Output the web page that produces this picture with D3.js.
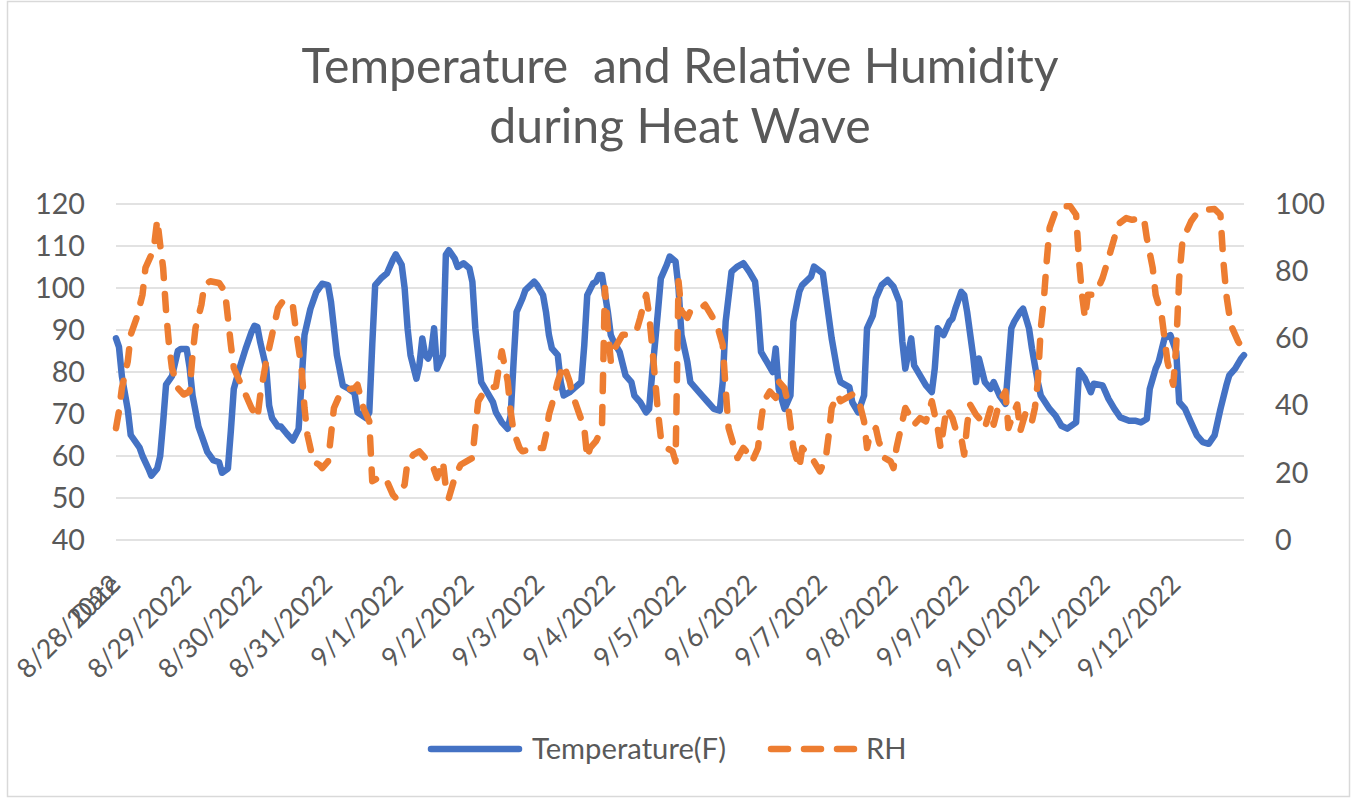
<!DOCTYPE html>
<html><head><meta charset="utf-8">
<script src="https://cdn.jsdelivr.net/npm/d3@7"></script>
<style>html,body{margin:0;padding:0;background:#fff;} svg{display:block;}</style>
</head><body><svg id="c" width="1354" height="799"></svg>
<script>
// ---------- data ----------
const titleLines = ["Temperature  and Relative Humidity", "during Heat Wave"];
const seriesNames = ["Temperature(F)", "RH"];
const firstCategory = "Date";
const dayLabels = ["8/28/2022","8/29/2022","8/30/2022","8/31/2022","9/1/2022","9/2/2022","9/3/2022","9/4/2022",
  "9/5/2022","9/6/2022","9/7/2022","9/8/2022","9/9/2022","9/10/2022","9/11/2022","9/12/2022"];
const leftTicks = [40,50,60,70,80,90,100,110,120];
const rightTicks = [0,20,40,60,80,100];
const lastHour = 383;
// [hour since 8/28 00:00, temperature F]
const temperature = [[0,88],[1,86],[2,79],[4,71],[5,65],[8,62],[9,60],[11,57],[12,55.3],[14,57],[15,60],[16,68],[17,77],[19,79],[21,85],[22,85.5],[24,85.5],[25,81],[26,74.4],[28,67],[30,63],[31,61],[33,59],[35,58.5],[36,56],[38,57],[39,66],[40,76],[42,81],[44,85.5],[46,89.5],[47,91],[48,90.7],[49,87],[51,81],[52,72],[53,69],[55,67],[56,67],[58,65.3],[60,63.7],[62,66.4],[63,77.6],[64,88.8],[66,95],[68,99],[70,101],[72,100.7],[73,96.7],[74,90.4],[75,84],[77,76.8],[79,76],[81,75],[82,70.4],[85,69],[86,70.4],[87,86.4],[88,100.7],[90,102.3],[92,103.5],[94,106.7],[95,108],[97,105.5],[98,100],[99,90.4],[100,84],[102,78.4],[103,81.6],[104,88],[105,84],[106,83.2],[107,84.8],[108,90.4],[109,80.8],[111,84],[112,107.9],[113,109],[115,107],[116,105],[118,105.9],[120,104.7],[121,101.5],[122,90.4],[124,77.6],[126,75.2],[128,72.8],[129,70.4],[131,68],[133,66.5],[134,69.6],[135,82.4],[136,94.3],[138,97.5],[139,99.5],[142,101.5],[143,100.7],[145,98.3],[146,94.3],[147,88.8],[148,85.6],[150,84],[151,77.6],[152,74.4],[154,75.2],[156,76.4],[158,77.6],[159,86.4],[160,98.3],[162,101.1],[163,101.5],[164,103.1],[165,103.1],[167,94.3],[168,88.8],[169,87.2],[171,84.8],[173,79.2],[175,77.6],[176,74.4],[178,72.8],[180,70.4],[181,71.2],[182,79.2],[184,94.3],[185,102.3],[187,105.5],[188,107.5],[190,106.3],[191,100],[192,88.8],[194,82.4],[195,77.6],[197,76],[199,74.4],[201,72.8],[203,71.2],[205,70.8],[206,77.6],[207,92],[209,103.9],[211,105.1],[213,105.9],[215,103.9],[217,101.5],[218,94.3],[219,84.8],[221,82.4],[223,80],[224,85.6],[225,76],[227,71.2],[229,74.4],[230,92],[232,99.1],[233,100.7],[236,102.7],[237,105.1],[240,103.5],[241,98.3],[243,88],[245,80],[246,77.6],[249,76.4],[250,72.8],[252,70.4],[254,74.4],[255,90.4],[257,93.5],[258,97.5],[260,100.7],[262,101.9],[264,100.3],[266,96.7],[267,87.2],[268,80.8],[270,88],[271,81.6],[273,79.2],[275,76.8],[277,75.2],[278,80.8],[279,90.4],[281,88.8],[283,92],[284,92.7],[285,95.1],[287,99.1],[288,98.3],[289,94.3],[291,84],[292,77.6],[293,83.2],[295,77.6],[297,76],[298,77.6],[300,74.4],[302,72.4],[304,90.4],[305,92],[307,94.3],[308,95.1],[310,90.4],[311,85.6],[313,77.6],[314,74.4],[317,71.2],[319,69.6],[321,67.2],[323,66.5],[326,68],[327,80.4],[329,78.4],[331,75.2],[332,77.2],[335,76.8],[337,73.6],[339,71.2],[341,69.2],[344,68.4],[346,68.4],[348,68],[350,68.8],[351,76],[353,80.8],[354,82.4],[356,88],[358,88.8],[360,84.8],[361,72.8],[363,71.2],[365,68],[367,64.9],[369,63.3],[371,62.9],[373,64.9],[375,71.2],[377,76.8],[378,79.2],[380,80.8],[382,83.2],[383,84]];
// [hour since 8/28 00:00, relative humidity %]
const humidity = [[0,33.3],[1,38.3],[2,45.2],[4,53.2],[5,61.1],[7,66.1],[9,73],[10,81],[12,84.9],[13,87.9],[14,95.3],[15,87.9],[16,81],[17,68.1],[18,58.1],[19,51.2],[21,45.2],[23,43.3],[25,44.2],[26,55.2],[27,63.1],[29,70],[30,76],[32,77],[35,76.5],[37,74],[38,66.1],[39,58.1],[40,51.2],[42,47.2],[44,43.3],[46,39.3],[48,36.3],[49,43.3],[51,53.2],[53,61.1],[55,69],[57,71.5],[60,70],[61,63.1],[63,51.2],[64,39.3],[65,31.3],[67,23.4],[69,22.4],[70,21.4],[72,23.4],[73,31.3],[74,39.3],[76,43.3],[78,44.7],[81,45.2],[82,46.2],[84,39.3],[86,35.3],[87,17.5],[89,18.5],[90,19],[92,17.5],[94,13.5],[95,12.5],[96,13.5],[98,16.5],[99,23.4],[101,25.4],[103,26.4],[105,24.4],[107,23.4],[109,18.5],[111,23.4],[112,15.5],[113,12.5],[115,18.5],[117,22.4],[119,23.4],[121,24.4],[122,33.3],[123,41.3],[125,44.2],[127,45.2],[129,45.7],[130,51.2],[131,56.2],[133,47.2],[134,38.3],[135,32.3],[137,27.4],[138,26.4],[140,26.9],[142,27.4],[145,27.4],[146,31.3],[147,37.3],[148,40.3],[150,47.2],[152,52.2],[154,47.2],[155,43.3],[157,38.3],[159,33.3],[160,24.4],[161,27.4],[163,29.4],[164,31.3],[165,33.3],[166,75],[167,63.1],[168,53.2],[169,56.2],[170,58.1],[172,61.1],[175,61.1],[177,63.1],[178,66.1],[180,73],[181,67.1],[182,58.1],[183,48.2],[184,38.3],[185,30.4],[187,27.4],[189,26.4],[190,23.4],[191,77],[192,68.1],[194,66.1],[195,68.1],[198,68.6],[200,70],[202,67.1],[204,64.1],[206,58.1],[207,45],[208,33.3],[210,27.4],[211,24.4],[213,27.4],[215,25.4],[216,23.4],[218,27.4],[219,35.3],[220,41.3],[222,44.2],[224,42.3],[225,47.2],[227,45.2],[228,41.3],[229,34.3],[230,27.4],[232,21.4],[233,27.4],[235,25.4],[237,23.4],[239,20.4],[241,24.4],[242,31.3],[243,39.3],[245,43.3],[246,41.3],[248,42.3],[250,43.3],[252,42.3],[254,35.3],[255,27.4],[256,31.3],[258,33.3],[259,29.4],[261,24.4],[263,23.4],[264,21.4],[265,27.4],[266,31.3],[268,39.3],[270,36.3],[271,34.3],[273,36.3],[275,35.3],[276,38.3],[277,41.3],[279,33.3],[280,27.4],[282,39.3],[284,36.3],[285,33.3],[287,30.4],[288,25.4],[289,34.3],[290,40.3],[292,37.3],[294,35.3],[295,33.3],[297,39.3],[298,34.3],[300,41.3],[302,44.2],[303,33.3],[305,38.3],[306,40.3],[307,32.3],[309,38.3],[311,35.3],[312,39.3],[313,47.2],[314,63.1],[315,71],[316,82.9],[317,92.9],[319,97.8],[321,99.3],[324,99.3],[326,96.8],[327,82.9],[328,73],[329,66.1],[330,73],[332,73],[333,74],[335,78],[337,83.9],[339,89.9],[340,93.8],[343,95.8],[345,95.3],[349,95.8],[350,89.9],[352,81],[353,73],[355,67.1],[356,60.1],[357,53.2],[358,49.2],[359,46.2],[360,58.1],[361,78],[362,87.9],[363,90.9],[365,94.8],[367,97.3],[370,98.3],[373,98.5],[375,96.8],[376,82.9],[377,73],[378,67.1],[379,63.1],[381,59.1],[383,56.2]];

// ---------- layout / style ----------
const plot = {left:116, right:1244, top:204, bottom:540};
const FONT = "Lato, 'Open Sans', sans-serif";
const TXT = "#595959";
const GRID = "#D9D9D9";
const BLUE = "#4472C4", ORANGE = "#ED7D31";
const LW = 6.5;
const svg = d3.select("#c");

function fitSize(str, target){
  const t = svg.append("text").attr("font-family",FONT).attr("font-size",100).text(str);
  const w = t.node().getComputedTextLength(); t.remove();
  return 100*target/w;
}
const titleSize = fitSize(titleLines[0], 745);
const yLabSize = fitSize("120", 50);
const xLabSize = fitSize("8/29/2022", 133);
const legSize = fitSize(seriesNames[0], 194);

// chart border
svg.append("rect").attr("x",7.5).attr("y",1.5).attr("width",1342).attr("height",795)
  .attr("fill","#fff").attr("stroke",GRID).attr("stroke-width",1.5);

// scales
const x = d3.scaleLinear().domain([0,lastHour]).range([plot.left, plot.right]);
const yL = d3.scaleLinear().domain([40,120]).range([plot.bottom, plot.top]);
const yR = d3.scaleLinear().domain([0,100]).range([plot.bottom, plot.top]);

// title
svg.append("text").attr("x",680).attr("y",83).attr("text-anchor","middle")
  .attr("font-family",FONT).attr("font-size",titleSize).attr("fill",TXT)
  .style("white-space","pre").attr("xml:space","preserve").text(titleLines[0]);
svg.append("text").attr("x",680).attr("y",143).attr("text-anchor","middle")
  .attr("font-family",FONT).attr("font-size",titleSize).attr("fill",TXT).text(titleLines[1]);

// gridlines
svg.append("g").selectAll("line").data(leftTicks).join("line")
  .attr("x1",plot.left).attr("x2",plot.right)
  .attr("y1",d=>yL(d)).attr("y2",d=>yL(d))
  .attr("stroke",GRID).attr("stroke-width",1.5);

// left axis labels
const gL = svg.append("g").attr("transform",`translate(${plot.left-31},0)`)
  .call(d3.axisLeft(yL).tickValues(leftTicks).tickSize(0).tickPadding(0));
gL.select(".domain").remove();
gL.selectAll("text").attr("font-family",FONT).attr("font-size",yLabSize).attr("fill",TXT);

// right axis labels
const gR = svg.append("g").attr("transform",`translate(${plot.right+31},0)`)
  .call(d3.axisRight(yR).tickValues(rightTicks).tickSize(0).tickPadding(0));
gR.select(".domain").remove();
gR.selectAll("text").attr("font-family",FONT).attr("font-size",yLabSize).attr("fill",TXT);

// x labels (rotated)
const xl = svg.append("g");
const dayTicks = dayLabels.map((d,i)=>({label:d, h:i*24}));
xl.selectAll("text.day").data(dayTicks).join("text").attr("class","day")
  .attr("transform",d=>`translate(${x(d.h)+6},586) rotate(-45)`)
  .attr("text-anchor","end").attr("font-family",FONT).attr("font-size",xLabSize).attr("fill",TXT)
  .text(d=>d.label);
xl.append("text")
  .attr("transform",`translate(${x(0)+6},586) rotate(-45)`)
  .attr("text-anchor","end").attr("font-family",FONT).attr("font-size",xLabSize).attr("fill",TXT)
  .text(firstCategory);

// series
const lineT = d3.line().x(d=>x(d[0])).y(d=>yL(d[1]));
const lineH = d3.line().x(d=>x(d[0])).y(d=>yR(d[1]));
svg.append("path").datum(temperature).attr("d",lineT).attr("fill","none")
  .attr("stroke",BLUE).attr("stroke-width",LW).attr("stroke-linejoin","round").attr("stroke-linecap","round");
svg.append("path").datum(humidity).attr("d",lineH).attr("fill","none")
  .attr("stroke",ORANGE).attr("stroke-width",LW).attr("stroke-linejoin","round").attr("stroke-linecap","round")
  .attr("stroke-dasharray","16,16");

// legend
const ly = 749;
const leg = svg.append("g");
leg.append("line").attr("x1",431).attr("x2",519).attr("y1",ly).attr("y2",ly)
  .attr("stroke",BLUE).attr("stroke-width",LW).attr("stroke-linecap","round");
leg.append("text").attr("x",532).attr("y",ly).attr("dy","0.35em")
  .attr("font-family",FONT).attr("font-size",legSize).attr("fill",TXT).text(seriesNames[0]);
leg.append("line").attr("x1",771).attr("x2",855).attr("y1",ly).attr("y2",ly)
  .attr("stroke",ORANGE).attr("stroke-width",LW).attr("stroke-linecap","round").attr("stroke-dasharray","17,16");
leg.append("text").attr("x",866).attr("y",ly).attr("dy","0.35em")
  .attr("font-family",FONT).attr("font-size",legSize).attr("fill",TXT).text(seriesNames[1]);
</script>
</body></html>
